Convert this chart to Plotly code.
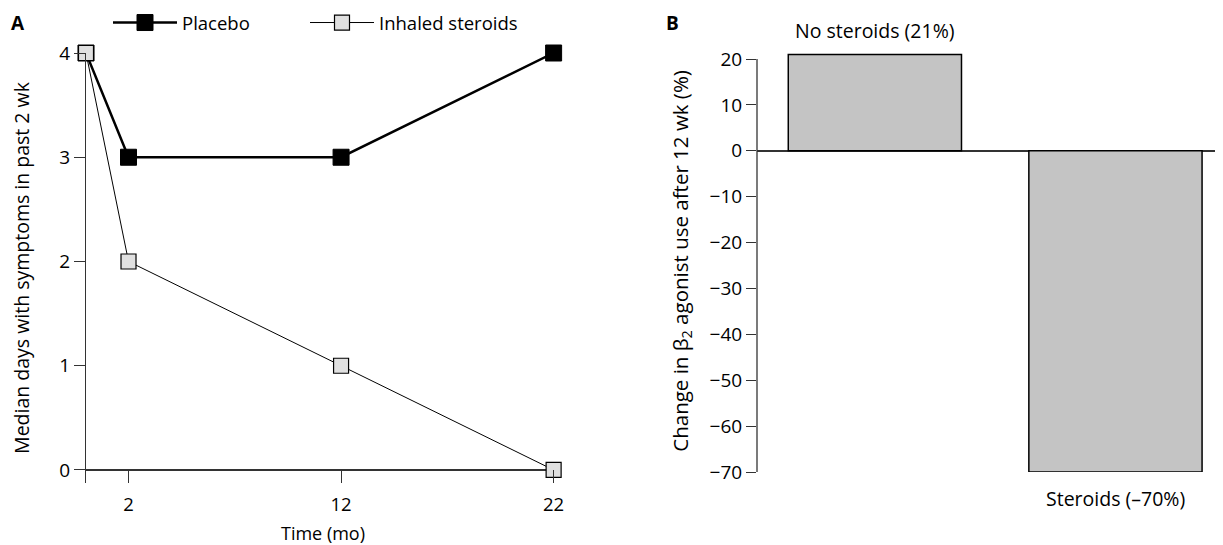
import plotly.graph_objects as go

# ---- data ----
months = [0, 2, 12, 22]
placebo = [4, 3, 3, 4]
inhaled_steroids = [4, 2, 1, 0]
month_ticks = [2, 12, 22]

bar_categories = [0, 1]
bar_values = [21, -70]
bar_labels = ["No steroids (21%)", "Steroids (\u201370%)"]
b_ticks = [20, 10, 0, -10, -20, -30, -40, -50, -60, -70]

# the page body adds an 8px margin; size the figure so it fills the window
OFF = 8
W, H = 1223 - OFF, 545 - OFF
FONT = "Open Sans"

def px_x(p):
    return (p - OFF) / W

def px_y(p):
    return 1 - (p - OFF) / H

fig = go.Figure()

fig.add_trace(go.Scatter(
    x=months, y=placebo, name="Placebo", mode="lines+markers",
    line=dict(color="black", width=2.5),
    marker=dict(symbol="square", size=16, color="black", line=dict(color="black", width=1)),
    cliponaxis=False, xaxis="x", yaxis="y", legend="legend",
))
fig.add_trace(go.Scatter(
    x=months, y=inhaled_steroids, name="Inhaled steroids", mode="lines+markers",
    line=dict(color="black", width=1),
    marker=dict(symbol="square", size=15, color="#e0e0e0", line=dict(color="black", width=1.2)),
    cliponaxis=False, xaxis="x", yaxis="y", legend="legend2",
))

fig.add_trace(go.Bar(
    x=bar_categories, y=bar_values, width=0.72, showlegend=False,
    marker=dict(color="#c4c4c4", line=dict(color="black", width=1.5)),
    xaxis="x2", yaxis="y2",
))

legend_common = dict(
    orientation="h", xanchor="left", yanchor="top",
    font=dict(size=18.5), itemwidth=64, bgcolor="rgba(0,0,0,0)",
)

fig.update_layout(
    width=W, height=H,
    margin=dict(l=0, r=0, t=0, b=0, autoexpand=False),
    paper_bgcolor="white", plot_bgcolor="white",
    font=dict(family=FONT, size=18, color="black"),
    showlegend=True,
    legend=dict(x=px_x(108), y=px_y(4), **legend_common),
    legend2=dict(x=px_x(305), y=px_y(4), **legend_common),
    xaxis=dict(
        domain=[px_x(86), px_x(560)], range=[0, 22.3],
        tickvals=month_ticks, ticks="inside", ticklen=13, tickcolor="#333",
        showline=False, showgrid=False, zeroline=False,
        tickfont=dict(size=18.5), ticklabelstandoff=8,
        title=dict(text="Time (mo)", font=dict(size=18), standoff=16),
        anchor="y", fixedrange=True,
    ),
    yaxis=dict(
        domain=[px_y(483), px_y(53)], range=[-0.125, 4],
        tickvals=[0, 1, 2, 3, 4], ticks="outside", ticklen=11, tickcolor="#333",
        showline=True, linecolor="#333", linewidth=1.3,
        showgrid=False, zeroline=True, zerolinecolor="#333", zerolinewidth=1.5,
        tickfont=dict(size=19),
        title=dict(text="Median days with symptoms in past 2 wk", font=dict(size=19.5), standoff=26),
        anchor="x", fixedrange=True,
    ),
    xaxis2=dict(
        domain=[px_x(757), 1.0], range=[-0.49, 1.447],
        showticklabels=False, ticks="", showline=False, showgrid=False, zeroline=False,
        anchor="y2", fixedrange=True,
    ),
    yaxis2=dict(
        domain=[px_y(472), px_y(472 - 413 * 92 / 90)], range=[-70, 22],
        tickvals=b_ticks,
        ticks="outside", ticklen=10, tickcolor="#333",
        showline=False,
        showgrid=False, zeroline=True, zerolinecolor="#333", zerolinewidth=1.5,
        tickfont=dict(size=19),
        title=dict(text="Change in \u03b2<sub>2</sub> agonist use after 12 wk (%)", font=dict(size=20.5), standoff=15),
        anchor="x2", fixedrange=True,
    ),
)

# y-axis line of panel B spanning only the tick range (20 to -70)
fig.add_shape(type="line", xref="x2 domain", yref="y2", x0=0, x1=0,
              y0=min(b_ticks), y1=max(b_ticks), line=dict(color="#333", width=1.3))

# bar labels
fig.add_annotation(x=bar_categories[0], y=bar_values[0], xref="x2", yref="y2",
                   text=bar_labels[0], showarrow=False, yanchor="bottom", yshift=8,
                   font=dict(size=19.5))
fig.add_annotation(x=bar_categories[1], y=bar_values[1], xref="x2", yref="y2",
                   text=bar_labels[1], showarrow=False, yanchor="top", yshift=-11,
                   font=dict(size=19.5))

# panel letters
fig.add_annotation(x=px_x(18), y=px_y(23), xref="paper", yref="paper", text="<b>A</b>",
                   showarrow=False, xanchor="center", yanchor="middle", font=dict(size=19))
fig.add_annotation(x=px_x(673), y=px_y(23), xref="paper", yref="paper", text="<b>B</b>",
                   showarrow=False, xanchor="center", yanchor="middle", font=dict(size=19))

fig.write_html("out.html", config={"displayModeBar": False})
